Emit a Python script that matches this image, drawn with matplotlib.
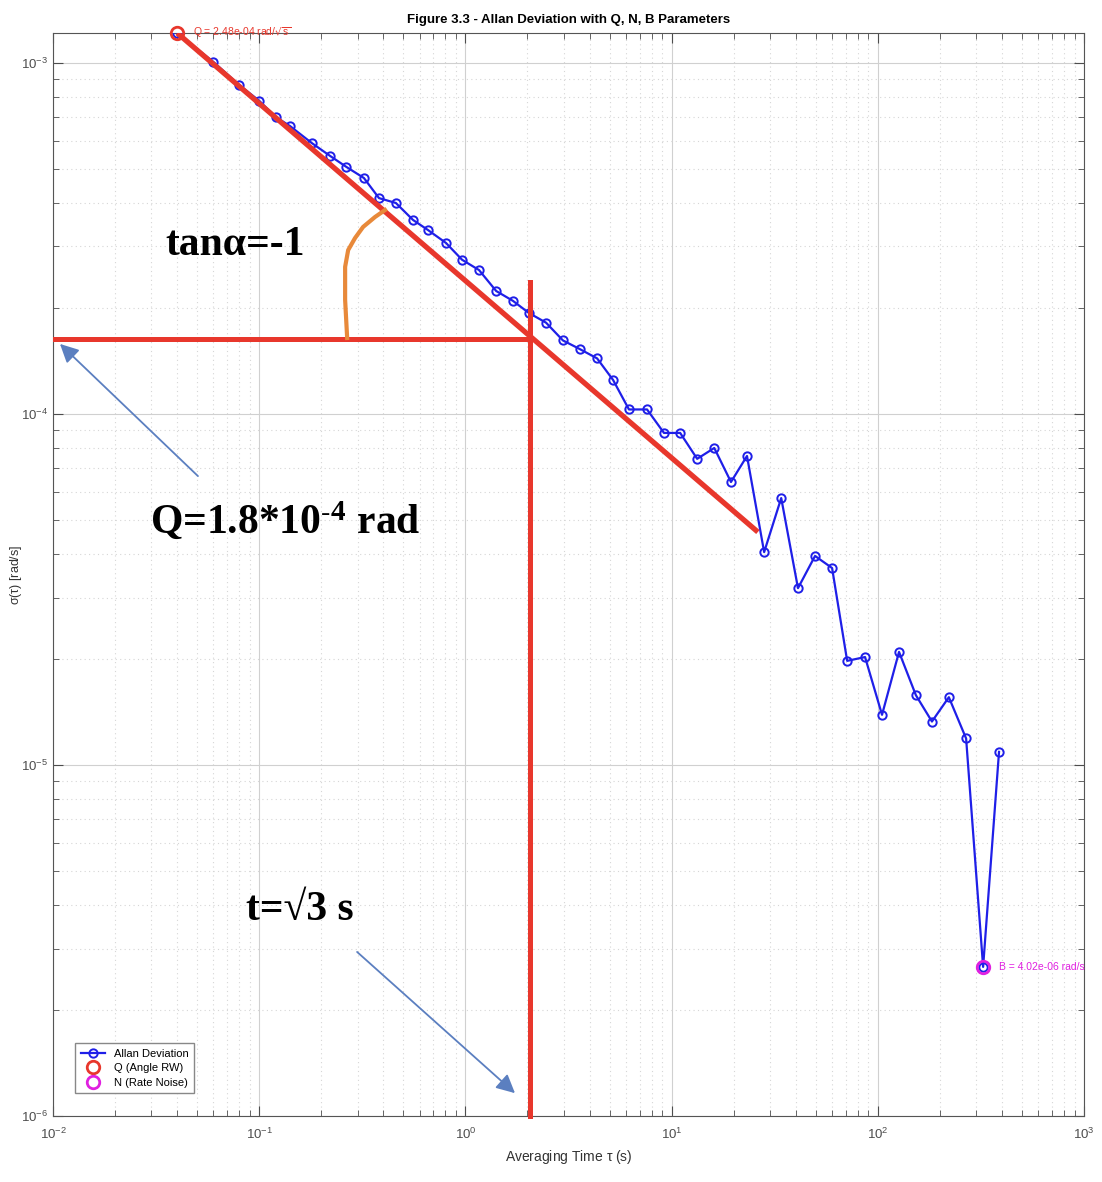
import matplotlib
matplotlib.use("Agg")
import matplotlib.pyplot as plt
import numpy as np

plt.rcParams['font.family'] = ['Liberation Sans', 'DejaVu Sans']
plt.rcParams['mathtext.default'] = 'regular'

# ---- data ----
tau = [0.040, 0.060, 0.080, 0.100, 0.120, 0.141, 0.180, 0.220, 0.264, 0.322,
       0.381, 0.460, 0.557, 0.659, 0.805, 0.963, 1.164, 1.41, 1.70, 2.03,
       2.46, 2.97, 3.59, 4.35, 5.20, 6.21, 7.60, 9.18, 11.0, 13.3,
       16.1, 19.4, 23.2, 28.1, 34.0, 41.0, 49.6, 60.0, 71.0, 86.7,
       104.8, 126.7, 153.0, 183.0, 221.0, 268.0, 324.0, 387.0]
adev = [1.217e-3, 1.006e-3, 8.65e-4, 7.80e-4, 7.02e-4, 6.61e-4, 5.91e-4, 5.44e-4, 5.06e-4, 4.70e-4,
        4.12e-4, 3.99e-4, 3.57e-4, 3.34e-4, 3.07e-4, 2.75e-4, 2.57e-4, 2.24e-4, 2.10e-4, 1.94e-4,
        1.82e-4, 1.62e-4, 1.53e-4, 1.44e-4, 1.25e-4, 1.03e-4, 1.03e-4, 8.83e-5, 8.83e-5, 7.45e-5,
        8.00e-5, 6.40e-5, 7.59e-5, 4.04e-5, 5.76e-5, 3.19e-5, 3.94e-5, 3.64e-5, 1.98e-5, 2.03e-5,
        1.39e-5, 2.10e-5, 1.58e-5, 1.33e-5, 1.56e-5, 1.19e-5, 2.66e-6, 1.09e-5]

q_idx = 0    # Q point (first sample)
b_idx = 46   # B point (minimum)
q_label = 'Q = 2.48e-04 rad/$\\sqrt{s}$'
b_label = 'B = 4.02e-06 rad/s'

# hand-drawn annotations
slope_tau = [0.040, 26.2]
slope_sig = [1.217e-3, 4.61e-5]
q_level = 1.636e-4
t_mark = 2.056
hline_tau = [0.01023, t_mark]
vline_sig = [1.0e-6, 2.38e-4]
arc_tau = [0.267, 0.261, 0.261, 0.270, 0.2915, 0.319, 0.3645, 0.4075]
arc_sig = [1.646e-4, 2.113e-4, 2.624e-4, 2.93e-4, 3.17e-4, 3.41e-4, 3.64e-4, 3.81e-4]

fig = plt.figure(figsize=(11.02, 11.82), dpi=100)
ax = fig.add_axes([0.0481, 0.0558, 0.9356, 0.9163])

blue = '#1f1fe8'
red = '#e8372c'
mag = '#e020e0'
gray = '#4d4d4d'

ax.plot(tau, adev, '-o', color=blue, lw=1.6, ms=6, mfc='none', mew=1.4,
        label='Allan Deviation', zorder=3)
ax.plot(tau[q_idx], adev[q_idx], 'o', color=red, ms=9, mfc='none', mew=2,
        label='Q (Angle RW)', zorder=5, clip_on=False)
ax.plot(tau[b_idx], adev[b_idx], 'o', color=mag, ms=9, mfc='none', mew=2,
        label='N (Rate Noise)', zorder=5, clip_on=False)
ax.text(tau[q_idx] * 1.2, adev[q_idx], q_label, color=red, fontsize=7.5,
        va='center', ha='left', zorder=6)
ax.text(tau[b_idx] * 1.2, adev[b_idx], b_label, color=mag, fontsize=7.5,
        va='center', ha='left', zorder=6)

ax.set_xscale('log')
ax.set_yscale('log')
ax.set_xlim(1e-2, 1e3)
ax.set_ylim(1e-6, 1.217e-3)

ax.grid(True, which='major', color='#d0d0d0', lw=0.8)
ax.grid(True, which='minor', color='#d6d6d6', lw=0.8, ls=(0, (1, 3)))
ax.tick_params(which='both', direction='in', top=True, right=True, colors=gray,
               labelsize=9.5)
ax.tick_params(axis='x', which='major', pad=8)
ax.tick_params(which='major', length=7)
ax.tick_params(which='minor', length=4)
for s in ax.spines.values():
    s.set_color('#555555')

ax.set_xlabel('Averaging Time $\\tau$ (s)', fontsize=10, color='#333333')
ax.set_ylabel('$\\sigma(\\tau)$ [rad/s]', fontsize=9, color='#333333')
ax.yaxis.set_label_coords(-0.028, 0.5)
ax.set_title('Figure 3.3 - Allan Deviation with Q, N, B Parameters',
             fontsize=9.5, fontweight='bold', pad=7)

leg = ax.legend(loc='lower left', bbox_to_anchor=(0.016, 0.016), fontsize=8,
                framealpha=1, edgecolor='#888888', fancybox=False,
                handlelength=2.2, borderpad=0.5, labelspacing=0.4)

# red construction lines
ax.plot(slope_tau, slope_sig, color=red, lw=3.8, zorder=4, solid_capstyle='butt')
ax.plot(hline_tau, [q_level, q_level], color=red, lw=3.6, zorder=4)
ax.plot([t_mark, t_mark], vline_sig, color=red, lw=3.6, zorder=4, clip_on=False)
ax.plot(arc_tau, arc_sig, color='#e8893a', lw=3, zorder=4)

# arrows
ax.annotate('', xy=(0.01057, 1.603e-4), xytext=(0.0516, 6.57e-5),
            arrowprops=dict(arrowstyle='-|>', color='#5b7fc0', lw=1.3,
                            mutation_scale=28), zorder=6)
ax.annotate('', xy=(1.78, 1.148e-6), xytext=(0.2915, 2.97e-6),
            arrowprops=dict(arrowstyle='-|>', color='#5b7fc0', lw=1.3,
                            mutation_scale=28), zorder=6)

serif = ['Liberation Serif', 'DejaVu Serif']
ax.text(0.0763, 3.03e-4, 'tan\u03b1=-1', family=serif, fontsize=30,
        fontweight='bold', ha='center', va='center', zorder=6)
ax.text(0.1333, 4.93e-5, 'Q=1.8*10$^{\\text{-}4}$ rad', family=serif, fontsize=30,
        fontweight='bold', ha='center', va='center', zorder=6,
        math_fontfamily='stix')
ax.text(0.158, 3.86e-6, 't=\u221a3 s', family=serif, fontsize=30,
        fontweight='bold', ha='center', va='center', zorder=6)

fig.savefig('out.png', dpi=100)
